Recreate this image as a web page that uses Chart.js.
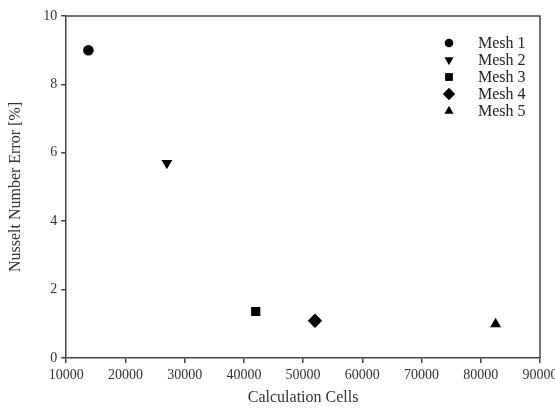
<!DOCTYPE html>
<html>
<head>
<meta charset="utf-8">
<script src="https://cdn.jsdelivr.net/npm/chart.js@4.4.0/dist/chart.umd.min.js"></script>
<style>
  html, body { margin: 0; padding: 0; background: #fff; overflow: hidden; }
  #wrap { width: 575px; height: 412px; }
</style>
</head>
<body>
<div id="wrap"><canvas id="myChart"></canvas></div>
<script>
const meshNames = ['Mesh 1', 'Mesh 2', 'Mesh 3', 'Mesh 4', 'Mesh 5']
const cells = [13750, 27000, 42000, 52000, 82500]
const nusseltError = [9.0, 5.7, 1.36, 1.09, 0.99]
const markers = ['circle', 'triangle', 'rect', 'rectRot', 'triangle']
const markerTurn = [0, 180, 0, 0, 0]
const markerSize = [5.3, 6.3, 6.5, 7.2, 6.3]
const xTicks = [10000, 20000, 30000, 40000, 50000, 60000, 70000, 80000, 90000]
const yTicks = [0, 2, 4, 6, 8, 10]

const serif = 'Liberation Serif'
const axisColor = '#444'
const textColor = '#333'

const datasets = meshNames.map((name, i) => ({
  label: name,
  data: [{ x: cells[i], y: nusseltError[i] }],
  pointStyle: markers[i],
  rotation: markerTurn[i],
  pointRadius: markerSize[i],
  pointHoverRadius: markerSize[i],
  backgroundColor: '#000',
  borderColor: '#000',
  borderWidth: 0
}))

// box round the plot area plus the legend in its top right corner
const frameAndLegend = {
  id: 'frameAndLegend',
  afterDraw(chart) {
    const { ctx, chartArea: a } = chart
    ctx.save()
    ctx.strokeStyle = axisColor
    ctx.lineWidth = 1.5
    ctx.beginPath()
    ctx.moveTo(a.left, a.top)
    ctx.lineTo(a.right, a.top)
    ctx.lineTo(a.right, a.bottom)
    ctx.stroke()

    ctx.font = '16px ' + serif
    ctx.textBaseline = 'middle'
    meshNames.forEach((name, i) => {
      const y = a.top + 27 + i * 17
      const x = a.right - 91
      ctx.fillStyle = '#000'
      Chart.helpers.drawPoint(ctx, {
        pointStyle: markers[i],
        rotation: markerTurn[i],
        radius: markerSize[i] - 1,
        borderWidth: 0
      }, x, y)
      ctx.fillStyle = '#222'
      ctx.fillText(name, x + 29, y + 1)
    })
    ctx.restore()
  }
}

new Chart(document.getElementById('myChart'), {
  type: 'scatter',
  data: { datasets: datasets },
  options: {
    responsive: true,
    maintainAspectRatio: false,
    animation: false,
    layout: { padding: { top: 16, right: 35, bottom: 5, left: 6 } },
    plugins: {
      legend: { display: false },
      tooltip: { enabled: false }
    },
    scales: {
      x: {
        type: 'linear',
        min: xTicks[0],
        max: xTicks[xTicks.length - 1],
        afterBuildTicks: axis => { axis.ticks = xTicks.map(v => ({ value: v })) },
        ticks: {
          color: textColor,
          font: { family: serif, size: 14 },
          padding: 4,
          maxRotation: 0,
          autoSkip: false,
          callback: v => String(v)
        },
        grid: { display: true, drawOnChartArea: false, tickLength: 5, color: axisColor, lineWidth: 1.5 },
        border: { color: axisColor, width: 1.5 },
        title: {
          display: true,
          text: 'Calculation Cells',
          color: textColor,
          font: { family: serif, size: 16 },
          padding: { top: 0, bottom: 0 }
        }
      },
      y: {
        type: 'linear',
        min: 0,
        max: 10,
        afterBuildTicks: axis => { axis.ticks = yTicks.map(v => ({ value: v })) },
        ticks: {
          color: textColor,
          font: { family: serif, size: 14 },
          padding: 4,
          callback: v => String(v)
        },
        grid: { display: true, drawOnChartArea: false, tickLength: 5, color: axisColor, lineWidth: 1.5 },
        border: { color: axisColor, width: 1.5 },
        title: {
          display: true,
          text: 'Nusselt Number Error [%]',
          color: textColor,
          font: { family: serif, size: 16 },
          padding: { top: 0, bottom: 14 }
        }
      }
    }
  },
  plugins: [frameAndLegend]
})
</script>
</body>
</html>
